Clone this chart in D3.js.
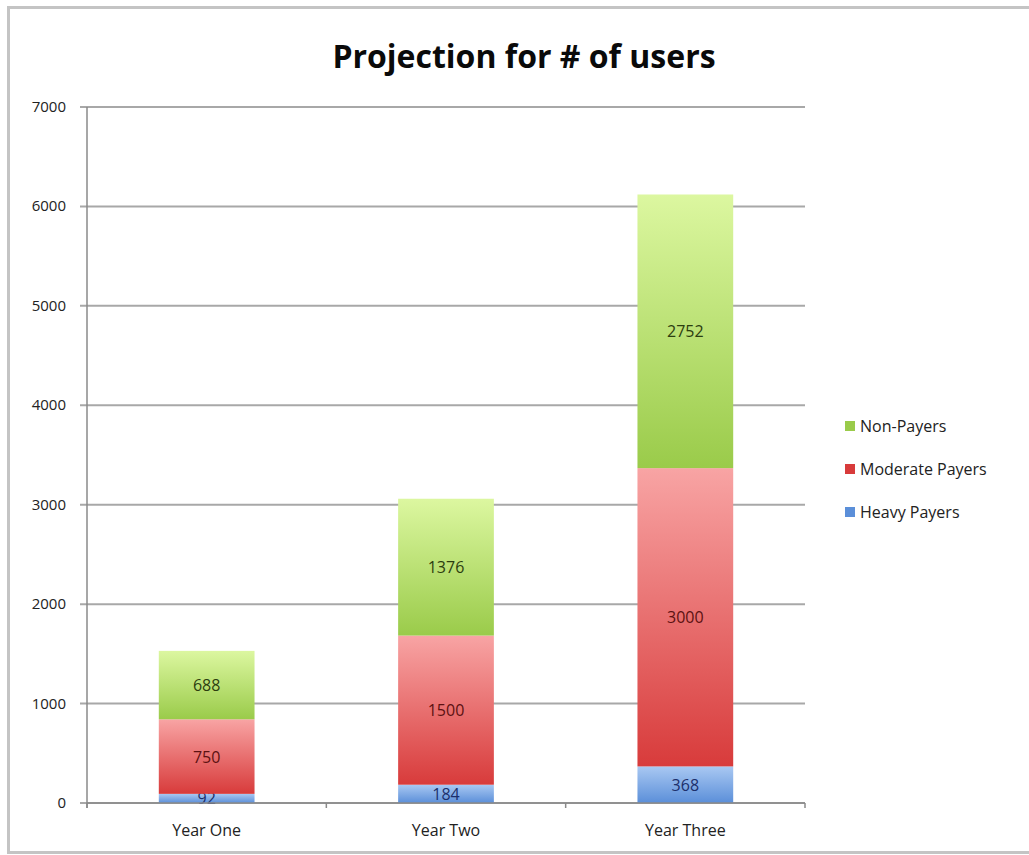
<!DOCTYPE html>
<html>
<head>
<meta charset="utf-8">
<script src="https://cdn.jsdelivr.net/npm/d3@7"></script>
<style>
  body { margin: 0; background: #fff; }
  svg { display: block; font-family: "Open Sans", "DejaVu Sans", sans-serif; }
</style>
</head>
<body>
<script>
(function(){

    //chart data
    var categories = ["Year One", "Year Two", "Year Three"];
    var seriesNames = ["Heavy Payers", "Moderate Payers", "Non-Payers"];
    var heavyPayers = [92, 184, 368];
    var moderatePayers = [750, 1500, 3000];
    var nonPayers = [688, 1376, 2752];
    var yTicks = [0, 1000, 2000, 3000, 4000, 5000, 6000, 7000];

    window.onload = drawChart();

function drawChart(){
    var width = 1029,
        height = 855;

    var svg = d3.select("body")
        .append("svg")
        .attr("width", width)
        .attr("height", height);

    //gradients per series (light top, dark bottom)
    var grads = [
        {id: "gBlue", top: "#a9c8f2", bottom: "#5b8fd9", text: "#1c2f6b"},
        {id: "gRed", top: "#f8a4a4", bottom: "#d83b3b", text: "#5c1111"},
        {id: "gGreen", top: "#dcf7a0", bottom: "#9acb4a", text: "#2c3d0f"}
    ];
    var defs = svg.append("defs");
    grads.forEach(function(g){
        var lg = defs.append("linearGradient")
            .attr("id", g.id)
            .attr("x1", 0).attr("y1", 0).attr("x2", 0).attr("y2", 1);
        lg.append("stop").attr("offset", "0%").attr("stop-color", g.top);
        lg.append("stop").attr("offset", "100%").attr("stop-color", g.bottom);
    });

    //outer frame (open on the right)
    svg.append("path")
        .attr("d", "M" + (width + 5) + ",7.5 H8.5 V852.5 H" + (width + 5))
        .attr("fill", "none")
        .attr("stroke", "#c4c4c4")
        .attr("stroke-width", 3);

    //title
    svg.append("text")
        .attr("x", 524).attr("y", 68)
        .attr("text-anchor", "middle")
        .attr("font-size", 32)
        .attr("font-weight", "bold")
        .attr("fill", "#0a0a0a")
        .text("Projection for # of users");

    var margin = {left: 87, right: 805, top: 107, bottom: 803};

    var x = d3.scaleBand()
        .domain(categories)
        .range([margin.left, margin.right])
        .paddingInner(0.6)
        .paddingOuter(0.3);

    var y = d3.scaleLinear()
        .domain([0, 7000])
        .range([margin.bottom, margin.top]);

    //gridlines
    svg.append("g")
        .selectAll("line")
        .data(yTicks)
        .enter()
        .append("line")
        .attr("x1", margin.left - 7)
        .attr("x2", margin.right)
        .attr("y1", function(d){ return y(d); })
        .attr("y2", function(d){ return y(d); })
        .attr("stroke", "#a8a8a8")
        .attr("stroke-width", 2);

    //y axis line
    svg.append("line")
        .attr("x1", margin.left).attr("x2", margin.left)
        .attr("y1", margin.top).attr("y2", margin.bottom + 5)
        .attr("stroke", "#8a8a8a")
        .attr("stroke-width", 1.5);

    //y tick labels
    svg.append("g")
        .selectAll("text")
        .data(yTicks)
        .enter()
        .append("text")
        .attr("x", 66)
        .attr("y", function(d){ return y(d) + 5; })
        .attr("text-anchor", "end")
        .attr("font-size", 15)
        .attr("fill", "#222")
        .text(function(d){ return d; });

    //stacked data
    var rows = categories.map(function(c, i){
        return {cat: c, "Heavy Payers": heavyPayers[i], "Moderate Payers": moderatePayers[i], "Non-Payers": nonPayers[i]};
    });
    var stack = d3.stack().keys(seriesNames)(rows);

    var layers = svg.selectAll(".layer")
        .data(stack)
        .enter()
        .append("g")
        .attr("class", "layer");

    layers.selectAll("rect")
        .data(function(d){ return d; })
        .enter()
        .append("rect")
        .attr("x", function(d){ return x(d.data.cat); })
        .attr("width", x.bandwidth())
        .attr("y", function(d){ return y(d[1]); })
        .attr("height", function(d){ return y(d[0]) - y(d[1]); })
        .attr("fill", function(d, i, nodes){
            var k = d3.select(nodes[i].parentNode).datum().index;
            return "url(#" + grads[k].id + ")";
        });

    //value labels
    layers.each(function(layer){
        d3.select(this).selectAll("text")
            .data(layer)
            .enter()
            .append("text")
            .attr("x", function(d){ return x(d.data.cat) + x.bandwidth() / 2; })
            .attr("y", function(d){ return (y(d[0]) + y(d[1])) / 2 + 6; })
            .attr("text-anchor", "middle")
            .attr("font-size", 16)
            .attr("fill", grads[layer.index].text)
            .text(function(d){ return d[1] - d[0]; });
    });

    //x axis line + ticks at category boundaries
    svg.append("line")
        .attr("x1", margin.left).attr("x2", margin.right)
        .attr("y1", margin.bottom).attr("y2", margin.bottom)
        .attr("stroke", "#8a8a8a")
        .attr("stroke-width", 1.5);

    var bounds = d3.range(categories.length + 1).map(function(i){
        return margin.left + (margin.right - margin.left) * i / categories.length;
    });
    svg.append("g")
        .selectAll("line")
        .data(bounds)
        .enter()
        .append("line")
        .attr("x1", function(d){ return d; })
        .attr("x2", function(d){ return d; })
        .attr("y1", margin.bottom)
        .attr("y2", margin.bottom + 5)
        .attr("stroke", "#8a8a8a")
        .attr("stroke-width", 1.5);

    //category labels
    svg.append("g")
        .selectAll("text")
        .data(categories)
        .enter()
        .append("text")
        .attr("x", function(d){ return x(d) + x.bandwidth() / 2; })
        .attr("y", 836)
        .attr("text-anchor", "middle")
        .attr("font-size", 16)
        .attr("fill", "#222")
        .text(function(d){ return d; });

    //legend (top to bottom: Non-Payers, Moderate, Heavy)
    var legendItems = seriesNames.map(function(s, i){ return {name: s, k: i}; }).reverse();
    var legend = svg.append("g")
        .selectAll("g")
        .data(legendItems)
        .enter()
        .append("g")
        .attr("transform", function(d, i){ return "translate(845," + (427 + i * 43) + ")"; });

    legend.append("rect")
        .attr("x", 0).attr("y", -6)
        .attr("width", 10).attr("height", 10)
        .attr("fill", function(d){ return grads[d.k].bottom; });

    legend.append("text")
        .attr("x", 15)
        .attr("y", 5)
        .attr("font-size", 16)
        .attr("fill", "#222")
        .text(function(d){ return d.name; });
};

})();
</script>
</body>
</html>
